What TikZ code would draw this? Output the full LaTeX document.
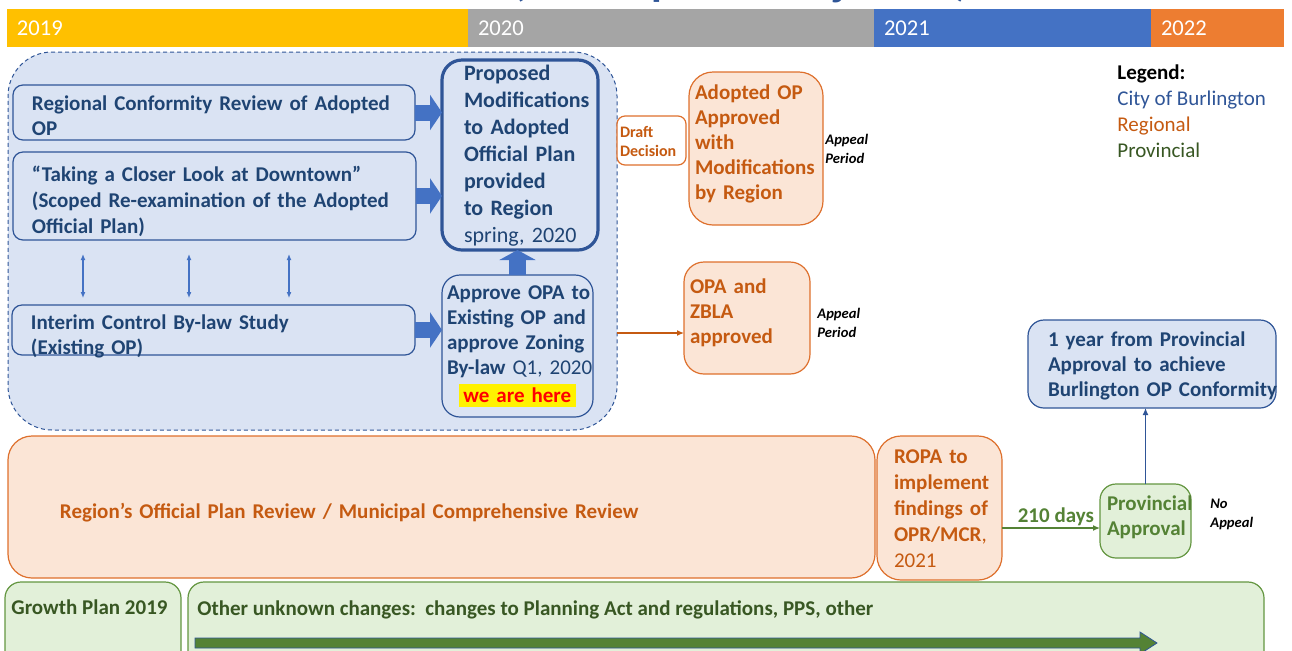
\documentclass[tikz,border=0pt]{standalone}
\usepackage{fontspec}
\setmainfont{Carlito}
\usepackage{tikz}
\usetikzlibrary{arrows.meta, positioning}
\definecolor{yearGold}{RGB}{255,192,0}
\definecolor{yearGrey}{RGB}{165,165,165}
\definecolor{yearBlue}{RGB}{68,114,196}
\definecolor{yearOrange}{RGB}{237,125,49}
\definecolor{cityFill}{RGB}{218,227,243}
\definecolor{cityLine}{RGB}{47,85,151}
\definecolor{cityText}{RGB}{31,68,115}
\definecolor{cityArrowColor}{RGB}{68,114,196}
\definecolor{regionFill}{RGB}{251,229,214}
\definecolor{regionLine}{RGB}{222,112,45}
\definecolor{regionText}{RGB}{197,90,17}
\definecolor{provFill}{RGB}{226,240,217}
\definecolor{provLine}{RGB}{100,150,65}
\definecolor{provText}{RGB}{56,87,35}
\definecolor{provBright}{RGB}{84,130,53}
\newcommand{\planFont}{\fontsize{10.5}{12.5}\selectfont\bfseries}
\newcommand{\keyFont}{\fontsize{11}{13.5}\selectfont\bfseries}
\newcommand{\yearFont}{\fontsize{11.3}{13}\selectfont}
\newcommand{\noteFont}{\fontsize{7.3}{9.5}\selectfont\bfseries\itshape}
\newcommand{\hereMark}[1]{{\setlength{\fboxsep}{2.2pt}\colorbox{yellow}{\color{red}\fontsize{10.5}{12}\selectfont #1}}}
\tikzstyle{timeline} = [x = 0.5pt, y = -0.5pt]
\tikzstyle{planNode} = [outer sep = 0pt, inner ysep = 0pt, align = left]
\tikzset{yearBar/.style = {planNode, fill = #1, text = white, font = \yearFont}}
\tikzstyle{cityStageStyle} = [planNode, draw = cityLine, fill = cityFill, dash pattern = on 2pt off 1.5pt, line width = 0.5pt, rounded corners = 22pt]
\tikzstyle{cityBox} = [planNode, draw = cityLine, fill = cityFill, line width = 0.6pt, rounded corners = 5pt, text = cityText, font = \planFont]
\tikzstyle{cityKeyBox} = [cityBox, line width = 1.6pt, rounded corners = 10pt, font = \keyFont]
\tikzstyle{regionBox} = [planNode, draw = regionLine, fill = regionFill, line width = 0.6pt, rounded corners = 12pt, text = regionText, font = \planFont]
\tikzstyle{draftBox} = [regionBox, fill = white, rounded corners = 4pt, font = \fontsize{8}{9.5}\selectfont\bfseries]
\tikzstyle{provBox} = [planNode, draw = provLine, fill = provFill, line width = 0.6pt, rounded corners = 8pt, text = provText, font = \planFont]
\tikzstyle{provLabel} = [inner sep = 0pt, text = provText, font = \planFont, anchor = west]
\tikzstyle{appealNote} = [inner sep = 0pt, align = left, font = \noteFont]
\tikzstyle{titleGlyph} = [inner sep = 0pt, anchor = base, text = cityLine, font = \fontsize{22}{24}\selectfont\bfseries]
\tikzstyle{blockArrow} = [draw = cityArrowColor, line width = 8pt, -{Triangle[width = 17.5pt, length = 6pt]}]
\tikzstyle{upArrow} = [draw = cityArrowColor, line width = 8.5pt, -{Triangle[width = 18pt, length = 5pt]}]
\tikzstyle{linkArrow} = [draw = cityArrowColor, line width = 0.6pt, {Latex[length = 3pt, width = 2.5pt]}-{Latex[length = 3pt, width = 2.5pt]}, shorten < = 7pt, shorten > = 3.5pt]
\tikzstyle{cityArrow} = [draw = cityLine, line width = 0.6pt, -{Latex[length = 3.5pt, width = 3pt]}]
\tikzstyle{regionArrow} = [draw = regionText, line width = 0.6pt, -{Latex[length = 3.5pt, width = 3pt]}]
\tikzstyle{provArrow} = [draw = provBright, line width = 0.6pt, -{Latex[length = 3.5pt, width = 3pt]}]
\tikzstyle{changeArrow} = [fill = provBright, draw = cityLine, line width = 0.4pt]
% box from (x1,y1) to (x2,y2) in pixels, left padding and text drop in pixels
\newcommand{\planBox}[9]{
  \pgfmathsetmacro{\boxWidth}{(#5 - #3) * 0.5}
  \pgfmathsetmacro{\boxHeight}{(#6 - #4) * 0.5}
  \pgfmathsetmacro{\boxPad}{#7 * 0.5}
  \pgfmathsetmacro{\boxText}{(#5 - #3 - 2 * #7) * 0.5}
  \pgfmathsetmacro{\boxDrop}{-#8 * 0.5}
  \node [#2, anchor = north west, minimum width = \boxWidth pt, minimum height = \boxHeight pt,
         inner xsep = \boxPad pt, text width = \boxText pt] (#1) at (#3, #4)
        {\raisebox{\boxDrop pt}[\height][\depth]{\begin{tabular}{@{}l@{}}#9\end{tabular}}};
}

\begin{document}
\begin{tikzpicture}[timeline]
  \useasboundingbox (0, 0) rectangle (1292, 650);

  % title, cut off at the top
  \node [titleGlyph] (titleOpen) at (519, -5) {(};
  \node [titleGlyph] (titleP) at (663, -5) {p};
  \node [titleGlyph] (titleJ) at (840, -5) {j};
  \node [titleGlyph] (titleClose) at (962, -5) {)};

  % years
  \planBox{year2019}{yearBar = yearGold}{7}{9}{468}{47}{10}{2}{2019}
  \planBox{year2020}{yearBar = yearGrey}{468}{9}{874}{47}{10}{2}{2020}
  \planBox{year2021}{yearBar = yearBlue}{874}{9}{1151}{47}{10}{2}{2021}
  \planBox{year2022}{yearBar = yearOrange}{1151}{9}{1284}{47}{10}{2}{2022}

  % city of Burlington
  \planBox{cityStage}{cityStageStyle}{8}{52}{617}{430}{0}{0}{}
  \planBox{regionalReview}{cityBox}{13}{85}{415}{140}{19}{5}{Regional Conformity Review of Adopted\\OP}
  \planBox{closerLook}{cityBox}{13}{152}{416}{240}{19}{6}{“Taking a Closer Look at Downtown”\\[0.5pt](Scoped Re-examination of the Adopted\\[0.5pt]Official Plan)}
  \planBox{interimStudy}{cityBox}{12}{305}{415}{355}{19}{7}{Interim Control By-law Study\\(Existing OP)}
  \planBox{proposedMods}{cityKeyBox}{442}{60}{598}{250}{22}{1}{Proposed\\Modifications\\to Adopted\\Official Plan\\provided\\to Region\\{\mdseries spring, 2020}}
  \planBox{approveOPA}{cityBox, rounded corners = 9pt}{442}{275}{593}{417}{5}{0}{Approve OPA to\\Existing OP and\\approve Zoning\\By-law {\mdseries Q1, 2020}\\[1pt]\hspace*{6pt}\hereMark{we are here}}

  \draw [blockArrow] (regionalReview.east) -- (regionalReview.east -| proposedMods.west);
  \draw [blockArrow] (closerLook.east) -- (closerLook.east -| proposedMods.west);
  \draw [blockArrow] (interimStudy.east) -- (interimStudy.east -| approveOPA.west);
  \draw [upArrow] (approveOPA.north) -- (approveOPA.north |- proposedMods.south);
  \foreach \linkX in {83, 189, 289} {
    \draw [linkArrow] (closerLook.south -| \linkX, 0) -- (interimStudy.north -| \linkX, 0);
  }

  % regional
  \planBox{draftDecision}{draftBox}{617}{116}{686}{165}{3}{3}{Draft\\Decision}
  \planBox{adoptedApproved}{regionBox}{689}{72}{823}{225}{6}{-4}{Adopted OP\\Approved\\with\\Modifications\\by Region}
  \planBox{opaApproved}{regionBox, rounded corners = 10pt}{684}{262}{810}{374}{6}{-5}{OPA and\\ZBLA\\approved}
  \node [appealNote, right = 1pt of adoptedApproved] (appealAdopted) {Appeal\\Period};
  \node [appealNote, right = 3.5pt of opaApproved, yshift = -2.5pt] (appealOPA) {Appeal\\Period};
  \coordinate (opaEntry) at ([yshift = -7.5pt] opaApproved.west);
  \draw [regionArrow] (cityStage.east |- opaEntry) -- (opaEntry);

  \planBox{regionReview}{regionBox}{8}{436}{875}{578}{52}{6}{Region’s Official Plan Review / Municipal Comprehensive Review}
  \planBox{ropaFindings}{regionBox}{877}{436}{1002}{580}{17}{2}{ROPA to\\[0.5pt]implement\\[0.5pt]findings of\\[0.5pt]OPR/MCR{\mdseries ,}\\[0.5pt]{\mdseries 2021}}

  % provincial
  \planBox{provApproval}{provBox, text = provBright}{1100}{484}{1191}{558}{7}{-3}{Provincial\\Approval}
  \node [appealNote, right = 9.5pt of provApproval, yshift = 3.5pt] (noAppeal) {No\\Appeal};
  \coordinate (provEntry) at ([yshift = -3.5pt] provApproval.west);
  \draw [provArrow] (ropaFindings.east |- provEntry) -- node [above, pos = 0.55, inner sep = 1pt, text = provBright, font = \planFont] (daysLabel) {210 days} (provEntry);

  \planBox{oneYear}{cityBox, rounded corners = 8pt}{1028}{320}{1276}{408}{20}{2}{1 year from Provincial\\Approval to achieve\\Burlington OP Conformity}
  \draw [cityArrow] (provApproval.north) -- (provApproval.north |- oneYear.south);

  \planBox{growthPlan}{provBox}{5}{582}{181}{700}{0}{0}{}
  \planBox{otherChanges}{provBox}{188}{582}{1264}{700}{0}{0}{}
  \node [provLabel] (growthPlanLabel) at ([xshift = 3pt, yshift = -12.5pt] growthPlan.north west) {Growth Plan 2019};
  \node [provLabel] (otherChangesLabel) at ([xshift = 4.5pt, yshift = -14pt] otherChanges.north west) {Other unknown changes:\ \ changes to Planning Act and regulations, PPS, other};
  \filldraw [changeArrow] (195, 638) -- (1140, 638) -- (1140, 632) -- (1157, 643) -- (1140, 654) -- (1140, 648) -- (195, 648) -- cycle;

  % legend
  \node [inner sep = 0pt, anchor = north west, align = left, font = \fontsize{10.5}{13}\selectfont] (legend) at (1117, 64)
    {{\bfseries Legend:}\\{\color{cityLine}City of Burlington}\\{\color{regionText}Regional}\\{\color{provText}Provincial}};
\end{tikzpicture}
\end{document}
